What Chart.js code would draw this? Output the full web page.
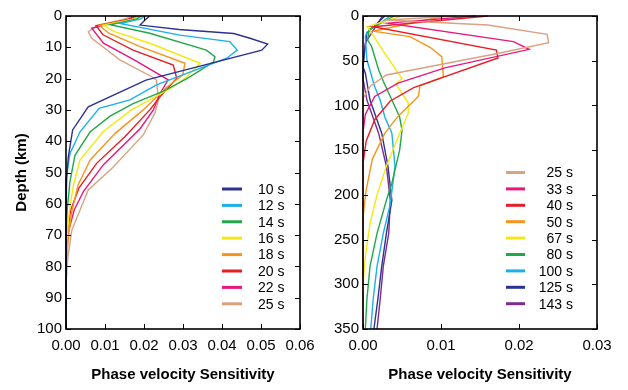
<!DOCTYPE html>
<html lang="en">
<head>
<meta charset="UTF-8">
<title>Phase velocity sensitivity kernels</title>
<script src="https://cdn.jsdelivr.net/npm/chart.js"></script>
<style>
  body { margin: 0; background: #fff; }
  #wrap { position: relative; width: 628px; height: 390px; background: #fff; }
  canvas { position: absolute; top: 0; }
  #leftChart { left: 0; }
  #rightChart { left: 314px; }
</style>
</head>
<body>
<div id="wrap">
  <canvas id="leftChart" width="314" height="390"></canvas>
  <canvas id="rightChart" width="314" height="390"></canvas>
</div>
<script>
// [sensitivity, depth km] pairs

// left panel: 10 - 25 s
const left10 = [[0.0215,0],[0.0205,1],[0.019,2.9],[0.029,4.3],[0.043,5.6],[0.0472,7.1],[0.0517,9],[0.0502,10.9],[0.0205,20.5],[0.0057,29],[0.0017,36.4],[0.0006,45],[0.0001,52],[0,60],[0,100]];
const left12 = [[0.0203,0],[0.019,1],[0.0138,2.4],[0.0292,6.1],[0.042,8.2],[0.0439,10.9],[0.0412,13.5],[0.0232,22],[0.0164,26.8],[0.0085,29.5],[0.0036,37],[0.001,44],[0.0003,50],[0,58],[0,100]];
const left14 = [[0.0194,0],[0.018,1],[0.0113,2.8],[0.0215,5.5],[0.036,10.9],[0.0382,13],[0.0378,14.7],[0.031,20],[0.025,24],[0.0172,28],[0.0113,32],[0.0062,37],[0.0023,44.5],[0.001,53],[0.0003,62],[0,70],[0,100]];
const left16 = [[0.019,0],[0.0175,1],[0.0096,3],[0.0125,5],[0.0215,8.7],[0.0344,15.1],[0.031,19.4],[0.027,23],[0.0168,30],[0.0095,37],[0.0036,46],[0.0019,54],[0.0008,63],[0.0002,72],[0,80],[0,100]];
const left18 = [[0.0185,0],[0.017,1],[0.0085,3],[0.011,5.5],[0.019,9.8],[0.0305,15.1],[0.0299,18.9],[0.0259,22.7],[0.0198,30],[0.0126,37.5],[0.0062,46],[0.0031,54],[0.0014,63],[0.0005,72],[0,82],[0,100]];
const left20 = [[0.018,0],[0.0165,1],[0.0077,3.1],[0.0095,6],[0.0172,10.9],[0.0275,15.7],[0.0284,19.9],[0.0241,25.8],[0.0215,30],[0.0151,38.6],[0.0079,47],[0.0033,55],[0.0012,62],[0.0003,70],[0,80],[0,100]];
const left22 = [[0.0175,0],[0.016,1],[0.0066,3.9],[0.0096,8.7],[0.0175,14],[0.0262,20.4],[0.024,25],[0.0224,30],[0.019,36],[0.0096,47.5],[0.0045,56],[0.0021,62],[0.0006,69],[0,80],[0,100]];
const left25 = [[0.017,0],[0.015,1],[0.0082,2.9],[0.0057,5],[0.0066,7.1],[0.0138,14],[0.022,19.4],[0.0232,20.5],[0.0237,27],[0.0228,31],[0.0198,38],[0.012,48.4],[0.0057,55.6],[0.0036,62],[0.0015,68.4],[0.0005,77],[0,85],[0,100]];

// right panel: 25 - 143 s
const right25 = [[0.012,0],[0.003,4.5],[0.016,10],[0.0236,20.5],[0.0238,29.8],[0.0174,41.7],[0.003,66],[0.001,78],[0,92],[0,350]];
const right33 = [[0.0145,0],[0.0032,8],[0.0193,28.7],[0.0213,37.3],[0.0105,58],[0.0045,75],[0.0015,90],[0.0003,110],[0,130],[0,350]];
const right40 = [[0.016,0],[0.0013,12],[0.0171,38],[0.0173,47],[0.0065,80],[0.0035,95],[0.0015,116],[0.0004,140],[0,165],[0,350]];
const right50 = [[0.0105,0],[0.0013,17],[0.006,23],[0.0086,35],[0.0101,45.5],[0.0103,68],[0.0073,78],[0.0071,90],[0.0045,112],[0.0028,131],[0.0012,160],[0.0004,195],[0,225],[0,350]];
const right67 = [[0.005,0],[0.0005,12],[0.0009,16],[0.0025,38],[0.005,70],[0.0042,76],[0.0058,97],[0.0058,109],[0.0047,131],[0.003,168],[0.0018,200],[0.0009,232],[0.0003,269],[0,300],[0,350]];
const right80 = [[0.004,0],[0.0008,15],[0.0006,27],[0.0011,34],[0.0015,45.5],[0.002,60],[0.0026,73],[0.0036,92],[0.0047,113],[0.005,128],[0.0047,150],[0.0037,187],[0.003,206],[0.0018,243],[0.0009,280],[0.0005,317],[0.0003,350]];
const right100 = [[0.0035,0],[0.0005,18],[0.0003,23],[0.0005,49],[0.0015,79],[0.0022,94],[0.0028,113],[0.0037,131],[0.0041,168],[0.0035,210],[0.0026,243],[0.0018,280],[0.0013,317],[0.001,350]];
const right125 = [[0.0028,0],[0.0005,19],[0.0002,40],[0,57],[0.0003,64],[0.0009,94],[0.0024,131],[0.0032,168],[0.0037,206],[0.003,243],[0.0024,280],[0.0019,317],[0.0014,350]];
const right143 = [[0.0025,0],[0.0003,30],[0,55],[0,70],[0.0005,94],[0.002,131],[0.003,168],[0.0035,206],[0.0033,243],[0.0026,280],[0.0022,317],[0.0018,350]];

const leftLabels = ['10 s', '12 s', '14 s', '16 s', '18 s', '20 s', '22 s', '25 s'];
const leftSeries = [left10, left12, left14, left16, left18, left20, left22, left25];
const leftColors = ['#2e3192', '#1cb0ea', '#22a84a', '#f4e90f', '#f7941d', '#e41f26', '#e8177d', '#d9a283'];

const rightLabels = ['25 s', '33 s', '40 s', '50 s', '67 s', '80 s', '100 s', '125 s', '143 s'];
const rightSeries = [right25, right33, right40, right50, right67, right80, right100, right125, right143];
const rightColors = ['#d9a283', '#e8177d', '#e41f26', '#f7941d', '#f4e90f', '#22a84a', '#1cb0ea', '#2e3192', '#7b2c8f'];

const leftXTicks = [0, 0.01, 0.02, 0.03, 0.04, 0.05, 0.06];
const leftYTicks = [0, 10, 20, 30, 40, 50, 60, 70, 80, 90, 100];
const rightXTicks = [0, 0.01, 0.02, 0.03];
const rightYTicks = [0, 50, 100, 150, 200, 250, 300, 350];

Chart.defaults.font.family = '"Liberation Sans", Arial, sans-serif';
Chart.defaults.font.size = 15;
Chart.defaults.color = '#000';

// black frame plus short inward ticks on all four sides
const frameTicks = {
  id: 'frameTicks',
  afterDraw(chart) {
    const { ctx, chartArea: a, scales: { x, y } } = chart;
    ctx.save();
    ctx.strokeStyle = '#000';
    ctx.lineWidth = 1;
    ctx.beginPath();
    x.ticks.forEach(t => {
      const px = Math.round(x.getPixelForValue(t.value)) + 0.5;
      ctx.moveTo(px, a.bottom); ctx.lineTo(px, a.bottom - 5);
      ctx.moveTo(px, a.top); ctx.lineTo(px, a.top + 5);
    });
    y.ticks.forEach(t => {
      const py = Math.round(y.getPixelForValue(t.value)) + 0.5;
      ctx.moveTo(a.left, py); ctx.lineTo(a.left + 5, py);
      ctx.moveTo(a.right, py); ctx.lineTo(a.right - 5, py);
    });
    ctx.stroke();
    ctx.lineWidth = 1.6;
    ctx.strokeRect(a.left, a.top, a.width, a.height);
    ctx.restore();
  }
};

// legend drawn inside the plot area
const innerLegend = {
  id: 'innerLegend',
  afterDatasetsDraw(chart, args, opts) {
    const ctx = chart.ctx;
    ctx.save();
    ctx.font = '14px "Liberation Sans", Arial, sans-serif';
    ctx.textBaseline = 'middle';
    ctx.textAlign = opts.align;
    ctx.fillStyle = '#000';
    chart.data.datasets.forEach((ds, i) => {
      const yy = opts.top + i * opts.step;
      ctx.strokeStyle = ds.borderColor;
      ctx.lineWidth = 3;
      ctx.beginPath();
      ctx.moveTo(opts.x0, yy);
      ctx.lineTo(opts.x1, yy);
      ctx.stroke();
      ctx.fillText(ds.label, opts.textX, yy + 1);
    });
    ctx.restore();
  }
};

function makeChart(id, labels, series, colors, xTicks, yTicks, opt) {
  const datasets = series.map((s, i) => ({
    label: labels[i],
    data: s.map(p => ({ x: p[0], y: p[1] })),
    borderColor: colors[i],
    borderWidth: 1.4,
    pointRadius: 0,
    tension: 0,
    fill: false,
    clip: false
  }));
  return new Chart(document.getElementById(id), {
    type: 'line',
    data: { datasets },
    options: {
      responsive: false,
      animation: false,
      indexAxis: 'y',
      layout: { padding: { top: 16, right: opt.padRight, left: 0, bottom: 0 } },
      plugins: {
        legend: { display: false },
        tooltip: { enabled: false },
        innerLegend: opt.legend
      },
      scales: {
        x: {
          type: 'linear',
          min: xTicks[0],
          max: xTicks[xTicks.length - 1],
          afterBuildTicks: s => { s.ticks = xTicks.map(v => ({ value: v })); },
          afterFit: s => { s.height = 61; s.paddingLeft = 0; s.paddingRight = 0; },
          grid: { display: false, drawTicks: false },
          border: { display: false },
          ticks: { padding: 8, maxRotation: 0, callback: v => v.toFixed(2) },
          title: {
            display: true,
            text: 'Phase velocity Sensitivity',
            font: { size: 15, weight: 'bold' },
            padding: { top: 0, bottom: 6 }
          }
        },
        y: {
          type: 'linear',
          reverse: true,
          min: yTicks[0],
          max: yTicks[yTicks.length - 1],
          afterBuildTicks: s => { s.ticks = yTicks.map(v => ({ value: v })); },
          afterFit: s => { s.width = opt.yWidth; s.paddingTop = 0; s.paddingBottom = 0; },
          grid: { display: false, drawTicks: false },
          border: { display: false },
          ticks: { padding: 4 },
          title: {
            display: opt.yTitle,
            text: 'Depth (km)',
            font: { size: 15, weight: 'bold' },
            padding: { top: 13, bottom: 0 }
          }
        }
      }
    },
    plugins: [frameTicks, innerLegend]
  });
}

makeChart('leftChart', leftLabels, leftSeries, leftColors, leftXTicks, leftYTicks, {
  padRight: 14, yWidth: 66, yTitle: true,
  legend: { x0: 222, x1: 242, textX: 258, align: 'left', top: 189, step: 16.4 }
});

makeChart('rightChart', rightLabels, rightSeries, rightColors, rightXTicks, rightYTicks, {
  padRight: 31, yWidth: 49, yTitle: false,
  legend: { x0: 192, x1: 211, textX: 259, align: 'right', top: 172.5, step: 16.4 }
});
</script>
</body>
</html>
